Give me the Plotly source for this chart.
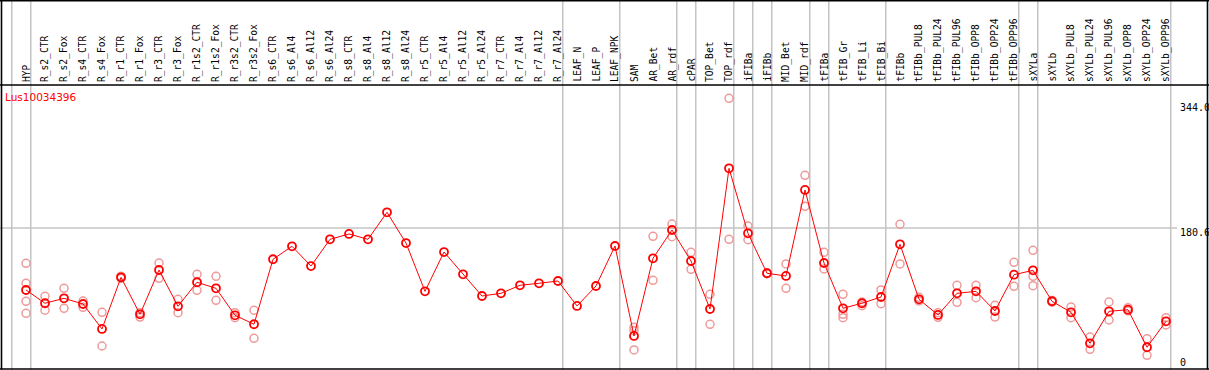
import plotly.graph_objects as go

categories = ["HYP", "R_s2_CTR", "R_s2_Fox", "R_s4_CTR", "R_s4_Fox", "R_r1_CTR", "R_r1_Fox",
              "R_r3_CTR", "R_r3_Fox", "R_r1s2_CTR", "R_r1s2_Fox", "R_r3s2_CTR", "R_r3s2_Fox",
              "R_s6_CTR", "R_s6_Al4", "R_s6_Al12", "R_s6_Al24", "R_s8_CTR", "R_s8_Al4", "R_s8_Al12",
              "R_s8_Al24", "R_r5_CTR", "R_r5_Al4", "R_r5_Al12", "R_r5_Al24", "R_r7_CTR", "R_r7_Al4",
              "R_r7_Al12", "R_r7_Al24", "LEAF_N", "LEAF_P", "LEAF_NPK", "SAM", "AR_Bet", "AR_rdf",
              "cPAR", "TOP_Bet", "TOP_rdf", "iFIBa", "iFIBb", "MID_Bet", "MID_rdf", "tFIBa",
              "tFIB_Gr", "tFIB_Li", "tFIB_Bi", "tFIBb", "tFIBb_PUL8", "tFIBb_PUL24", "tFIBb_PUL96",
              "tFIBb_OPP8", "tFIBb_OPP24", "tFIBb_OPP96", "sXYLa", "sXYLb", "sXYLb_PUL8",
              "sXYLb_PUL24", "sXYLb_PUL96", "sXYLb_OPP8", "sXYLb_OPP24", "sXYLb_OPP96"]

mean_values = [102.7, 86.0, 92.2, 85.1, 53.7, 118.6, 72.1, 127.8, 82.2, 112.4, 104.8, 70.9, 59.6,
               141.3, 157.6, 132.8, 166.4, 173.1, 166.4, 200.3, 161.7, 101.0, 150.4, 122.4, 95.1,
               98.5, 108.6, 111.1, 114.0, 82.6, 107.7, 158.0, 44.9, 142.5, 178.1, 139.1, 78.8,
               255.6, 173.9, 123.7, 120.3, 228.4, 136.6, 79.7, 86.0, 93.9, 160.1, 91.0, 71.3, 98.5,
               101.0, 76.3, 121.9, 127.4, 88.5, 74.6, 35.7, 75.9, 77.9, 30.7, 63.3]

replicate_values = [
    [136.2, 111.1, 88.5, 73.4], [94.8, 77.2], [104.8, 79.7], [88.8, 80.9], [74.6, 32.3],
    [120.0, 117.2], [74.1, 68.7], [136.6, 117.4], [91.0, 74.1], [122.4, 102.3], [119.9, 89.7],
    [74.1, 67.9], [77.2, 42.0],
    [], [], [], [], [], [], [], [], [], [], [], [], [], [], [], [], [], [], [],
    [55.8, 51.5, 27.3], [170.2, 114.9], [185.6, 169.7], [150.1, 128.7], [97.3, 59.6],
    [343.6, 166.4], [183.1, 165.9], [123.2, 124.2], [135.4, 104.8], [246.8, 207.9],
    [150.1, 129.1], [97.3, 72.1, 67.9], [87.6, 82.9], [102.7, 85.5], [185.3, 135.4],
    [93.5, 89.0], [74.1, 68.4], [108.6, 87.2], [108.6, 93.0], [83.4, 68.7], [137.5, 107.3],
    [152.6, 119.9, 108.1], [89.5, 87.5], [81.3, 67.9], [43.6, 28.1], [87.6, 65.0],
    [80.4, 76.3], [41.5, 20.6], [67.9, 58.7]]

gene_id = "Lus10034396"
axis_max_label = "344.0"
axis_mid_value = 180.6
axis_mid_label = "180.6"
axis_min_label = "0"
group_separators = [-0.75, 0.25, 28.25, 31.25, 34.25, 35.25, 37.25, 38.25, 39.25, 41.25,
                    42.25, 45.25, 52.25, 53.25, 60.25]

W, H = 1209, 370
x_idx = list(range(len(categories)))

rep_x, rep_y = [], []
for i, reps in enumerate(replicate_values):
    for r in reps:
        rep_x.append(i)
        rep_y.append(r)

fig = go.Figure()
fig.add_trace(go.Scatter(
    x=rep_x, y=rep_y, mode="markers",
    marker=dict(symbol="circle-open", size=8, color="#ee9a9a", line=dict(width=1.5)),
    hoverinfo="skip", showlegend=False, cliponaxis=False))
fig.add_trace(go.Scatter(
    x=x_idx, y=mean_values, mode="lines+markers",
    line=dict(color="#ff0000", width=1),
    marker=dict(symbol="circle-open", size=8, color="#ff0000", line=dict(width=1.8)),
    text=categories, showlegend=False, cliponaxis=False))

def py(pix):
    return (H - pix) / H

shapes = []
for s in group_separators:
    shapes.append(dict(type="line", xref="x", yref="paper", x0=s, x1=s, y0=0, y1=1,
                       line=dict(color="#c4c4c4", width=1.5), layer="below"))
shapes.append(dict(type="line", xref="paper", yref="y", x0=0, x1=1177 / W,
                   y0=axis_mid_value, y1=axis_mid_value,
                   line=dict(color="#c4c4c4", width=1.5), layer="below"))
for (x0, y0, x1, y1) in [(1.5, 0.5, 1.5, 369.5), (1207.5, 0.5, 1207.5, 369.5),
                         (0, 0.8, W, 0.8), (0, 85, W, 85), (0, 369, W, 369)]:
    shapes.append(dict(type="line", xref="paper", yref="paper",
                       x0=x0 / W, x1=x1 / W, y0=py(y0), y1=py(y1),
                       line=dict(color="black", width=1.6)))

annotations = []
for i, c in enumerate(categories):
    annotations.append(dict(x=i, xref="x", y=py(84), yref="paper", text=c, textangle=-90,
                            xanchor="center", yanchor="bottom", showarrow=False,
                            font=dict(family="DejaVu Sans Mono", size=9.6, color="black")))
annotations.append(dict(x=3 / W, xref="paper", y=py(97), yref="paper", text=gene_id,
                        xanchor="left", yanchor="middle", showarrow=False,
                        font=dict(family="DejaVu Sans", size=10.5, color="#ff0000")))
for lab, ypix in [(axis_max_label, 107), (axis_mid_label, 232), (axis_min_label, 362)]:
    annotations.append(dict(x=1178 / W, xref="paper", y=py(ypix), yref="paper", text=lab,
                            xanchor="left", yanchor="middle", showarrow=False,
                            font=dict(family="DejaVu Sans Mono", size=10, color="black")))

# pixel mapping: value 344 at y=98 px, 180.6 at y=228 px
k = (344 - 180.6) / 130.0
y_low = 344 - (369 - 98) * k
y_high = 344 + (98 - 85) * k
x_low = -26 / 19
x_high = (W - 26) / 19

fig.update_layout(
    width=W, height=H, margin=dict(l=0, r=0, t=0, b=0),
    paper_bgcolor="white", plot_bgcolor="white",
    xaxis=dict(range=[x_low, x_high], visible=False, domain=[0, 1]),
    yaxis=dict(range=[y_low, y_high], visible=False, domain=[py(369), py(85)]),
    shapes=shapes, annotations=annotations, showlegend=False)

fig.write_html("out.html", config={"displayModeBar": False},
               post_script="document.body.style.margin='0';document.body.style.padding='0';"
                           "document.body.style.overflow='hidden';")
